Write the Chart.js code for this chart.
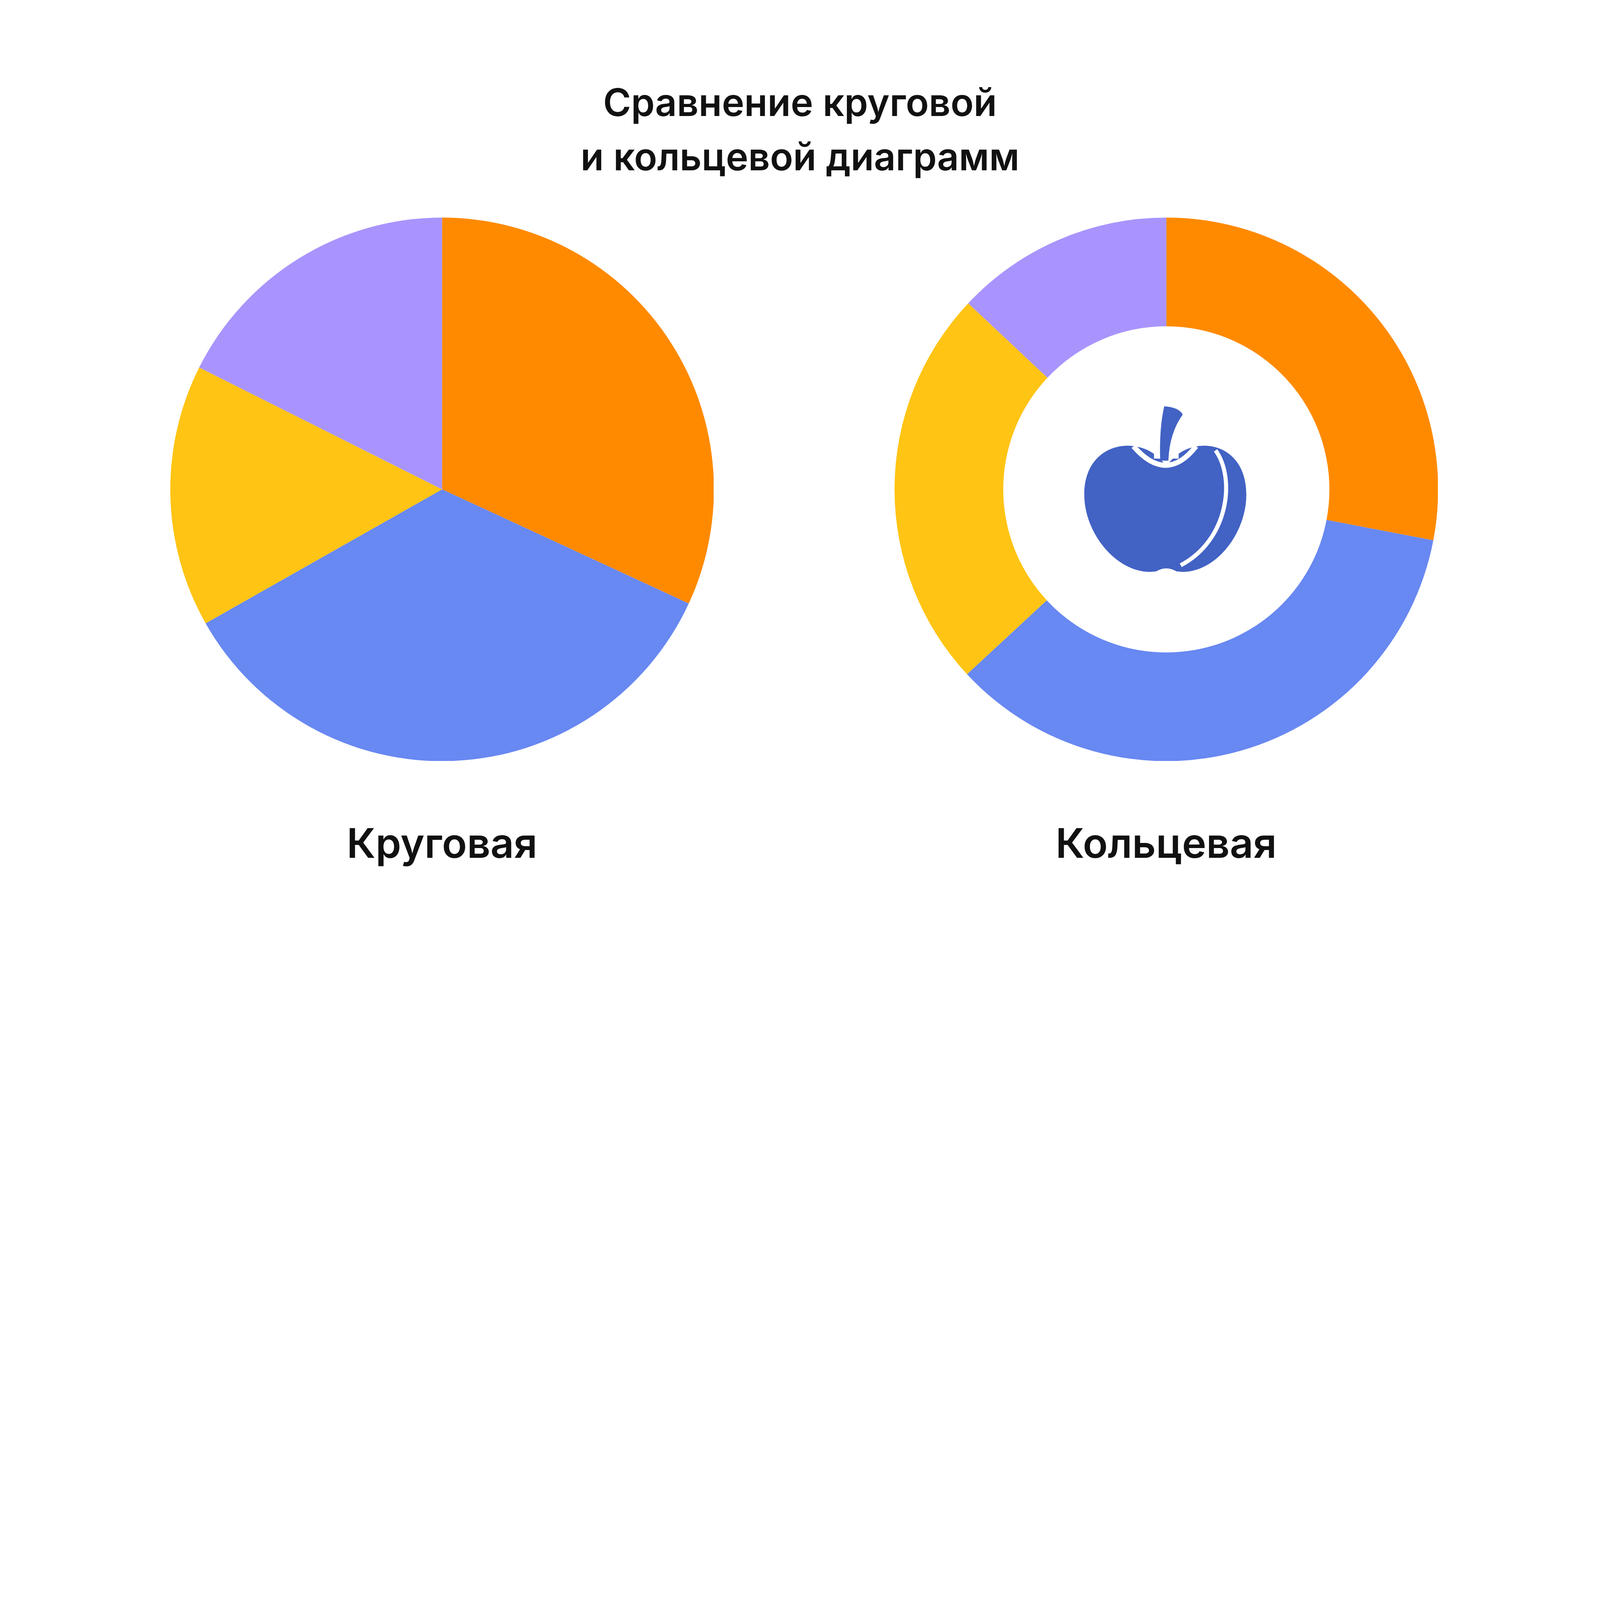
<!DOCTYPE html>
<html><head><meta charset="utf-8">
<script src="https://cdn.jsdelivr.net/npm/chart.js@4"></script>
<style>
html,body{margin:0;padding:0;background:#fff;overflow:hidden;font-family:Inter,"Noto Sans",sans-serif;}
body{position:relative;}
.t{position:absolute;left:0;width:100%;text-align:center;color:#111;font-weight:600;}
.lab{position:absolute;text-align:center;font-weight:600;color:#111;}
.box{position:absolute;}
</style></head><body>
<div id="title" class="t">Сравнение круговой<br>и кольцевой диаграмм</div>
<div id="b1" class="box"><canvas id="pie"></canvas></div>
<div id="b2" class="box"><canvas id="donut"></canvas></div>
<div id="l1" class="lab">Круговая</div>
<div id="l2" class="lab">Кольцевая</div>
<script>
const categories = ["A","B","C","D"];
const pieValues = [31.9, 34.9, 15.6, 17.6];
const donutValues = [28.0, 35.1, 23.9, 13.0];
const colors = ["#FF8A00","#6888F2","#FFC414","#A994FD"];

const W = window.innerWidth, S = W/1560;
const px = v => (v*S)+'px';
document.documentElement.style.width = px(1560); document.documentElement.style.height = px(880);
document.body.style.width = px(1560); document.body.style.height = px(880);
const R = 265;
function place(id, cx, cy){
  const e=document.getElementById(id);
  e.style.left=px(cx-R); e.style.top=px(cy-R); e.style.width=px(2*R); e.style.height=px(2*R);
}
place('b1',431,477); place('b2',1137,477);
const t=document.getElementById('title');
t.style.top=px(73); t.style.fontSize=px(37); t.style.lineHeight=px(53);
for (const [id,cx] of [['l1',431],['l2',1137]]){
  const e=document.getElementById(id);
  e.style.left=px(cx-300); e.style.width=px(600); e.style.top=px(795); e.style.fontSize=px(40); e.style.lineHeight=px(54);
}

const apple = {
  id:'apple',
  afterDraw(chart){
    const m = chart.getDatasetMeta(0).data[0];
    const ctx = chart.ctx; ctx.save();
    const k = m.outerRadius/R;
    ctx.translate(m.x, m.y); ctx.scale(k,k);
    ctx.fillStyle="#4262C4";
    ctx.beginPath();
    ctx.moveTo(0,-22);
    ctx.bezierCurveTo(-20,-55,-80,-50,-80,5);
    ctx.bezierCurveTo(-80,45,-45,85,-10,80);
    ctx.quadraticCurveTo(0,74,10,80);
    ctx.bezierCurveTo(45,85,78,45,78,5);
    ctx.bezierCurveTo(78,-50,20,-55,0,-22);
    ctx.fill();
    ctx.strokeStyle="#fff"; ctx.lineWidth=4;
    ctx.beginPath(); ctx.moveTo(48,-38); ctx.bezierCurveTo(68,-10,60,50,14,74); ctx.stroke();
    ctx.lineWidth=5;
    ctx.beginPath(); ctx.moveTo(-32,-42); ctx.quadraticCurveTo(0,-5,29,-42); ctx.stroke();
    ctx.fillStyle="#fff"; ctx.fillRect(-12,-60,24,30);
    ctx.fillStyle="#4262C4";
    ctx.beginPath(); ctx.moveTo(-6,-28); ctx.quadraticCurveTo(-7,-60,-2,-81); ctx.quadraticCurveTo(12,-80,16,-73); ctx.quadraticCurveTo(3,-55,2,-28); ctx.closePath(); ctx.fill();
    ctx.restore();
  }
};
function mk(id, vals, cut, plugins){
  new Chart(document.getElementById(id), {
    type: cut ? 'doughnut' : 'pie',
    data:{labels:categories, datasets:[{data:vals, backgroundColor:colors, borderWidth:0}]},
    options:{responsive:true, maintainAspectRatio:false, animation:false, cutout:cut||0,
      plugins:{legend:{display:false}, tooltip:{enabled:false}}},
    plugins: plugins||[]
  });
}
mk('pie', pieValues, 0);
mk('donut', donutValues, '60%', [apple]);
</script></body></html>
